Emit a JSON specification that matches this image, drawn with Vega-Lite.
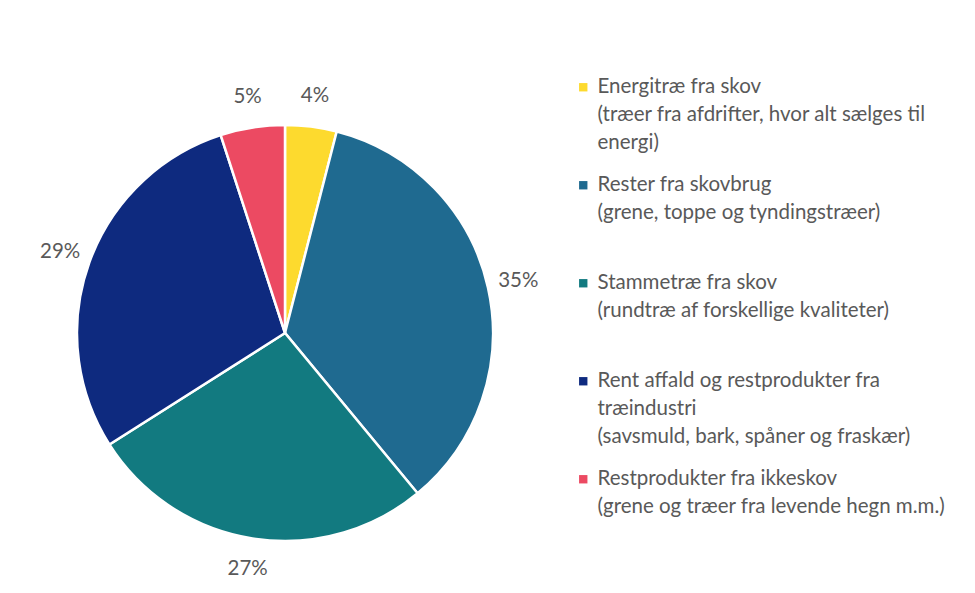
{
  "$schema": "https://vega.github.io/schema/vega-lite/v6.json",
  "autosize": {"type": "none"},
  "width": 570,
  "height": 512,
  "padding": {"left": 0, "top": 77, "right": 405, "bottom": 4},
  "background": "white",
  "config": {
    "view": {"stroke": null},
    "font": "Lato",
    "style": {"guide-label": {"lineHeight": 28, "dy": -10}}
  },
  "data": {
    "values": [
      {"kategori": "Energitræ fra skov|(træer fra afdrifter, hvor alt sælges til|energi)", "andel": 4, "label": "4%", "order": 1},
      {"kategori": "Rester fra skovbrug|(grene, toppe og tyndingstræer)| ", "andel": 35, "label": "35%", "order": 2},
      {"kategori": "Stammetræ fra skov|(rundtræ af forskellige kvaliteter)| ", "andel": 27, "label": "27%", "order": 3},
      {"kategori": "Rent affald og restprodukter fra|træindustri|(savsmuld, bark, spåner og fraskær)", "andel": 29, "label": "29%", "order": 4},
      {"kategori": "Restprodukter fra ikkeskov|(grene og træer fra levende hegn m.m.)| ", "andel": 5, "label": "5%", "order": 5}
    ]
  },
  "encoding": {
    "theta": {"field": "andel", "type": "quantitative", "stack": true},
    "order": {"field": "order", "type": "quantitative"},
    "color": {
      "field": "kategori",
      "type": "nominal",
      "sort": {"field": "order"},
      "scale": {
        "domain": [
          "Energitræ fra skov|(træer fra afdrifter, hvor alt sælges til|energi)",
          "Rester fra skovbrug|(grene, toppe og tyndingstræer)| ",
          "Stammetræ fra skov|(rundtræ af forskellige kvaliteter)| ",
          "Rent affald og restprodukter fra|træindustri|(savsmuld, bark, spåner og fraskær)",
          "Restprodukter fra ikkeskov|(grene og træer fra levende hegn m.m.)| "
        ],
        "range": ["#FDDA2E", "#1F6A90", "#127A80", "#0E2A7F", "#EC4A62"]
      },
      "legend": {
        "title": null,
        "orient": "right",
        "offset": 3,
        "symbolType": "square",
        "symbolSize": 70,
        "symbolStrokeWidth": 0,
        "labelFont": "Lato",
        "labelFontSize": 20.5,
        "labelColor": "#595959",
        "labelLimit": 400,
        "labelOffset": 4,
        "labelBaseline": "top",
        "labelExpr": "split(datum.label, '|')",
        "rowPadding": 21
      }
    }
  },
  "layer": [
    {
      "mark": {"type": "arc", "outerRadius": 208, "stroke": "white", "strokeWidth": 2.5}
    },
    {
      "mark": {"type": "text", "radius": 239, "font": "Lato", "fontSize": 20.5, "fill": "#595959"},
      "encoding": {"text": {"field": "label"}, "color": {"value": "#595959"}}
    }
  ]
}
